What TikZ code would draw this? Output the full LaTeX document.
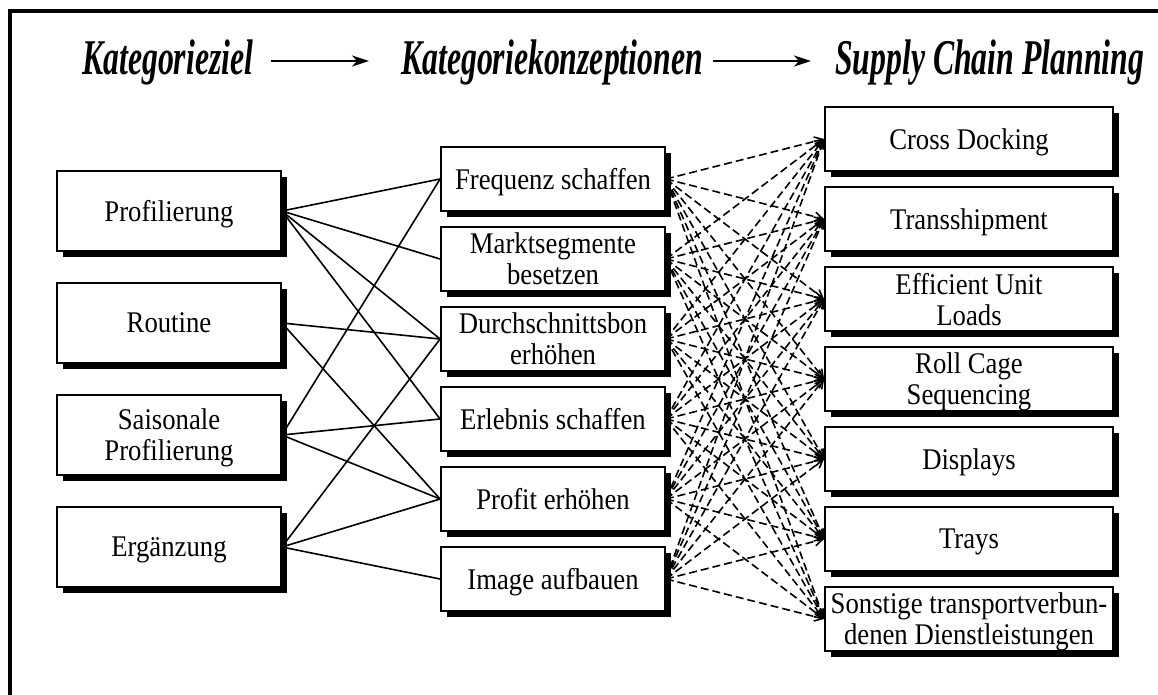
\documentclass[tikz,border=0pt]{standalone}
\usepackage{fontspec}
\usepackage{graphicx}
\setmainfont{Liberation Serif}
\newfontfamily\boxfont{Liberation Serif}[FakeStretch=0.89]
\usetikzlibrary{arrows.meta,shadows,backgrounds}
\begin{document}
\begin{tikzpicture}[x=1pt,y=-1pt,
  box/.style={draw=black, line width=1.8pt, fill=white, inner sep=0pt, align=center,
    font=\boxfont\fontsize{30}{31}\selectfont, text depth=0pt,
    drop shadow={shadow xshift=6pt, shadow yshift=-6pt, opacity=1, fill=black}},
  lbox/.style={box, minimum width=224pt, minimum height=80pt},
  mbox/.style={box, minimum width=224pt, minimum height=64pt},
  rbox/.style={box, minimum width=288pt, minimum height=64pt},
  titletext/.style={inner sep=0pt, anchor=base west, font=\fontsize{50}{60}\selectfont\bfseries\itshape},
  titlearrow/.style={line width=2.2pt, -{Stealth[length=17pt,width=11pt,inset=5pt]}},
  solidlink/.style={line width=1.6pt},
  dashlink/.style={line width=1.6pt, dash pattern=on 8pt off 4pt, -{Straight Barb[length=8pt,width=9pt]}}
]
\useasboundingbox (0,0) rectangle (1158,695);
% frame
\draw[line width=4pt] (10,697) -- (10,11) -- (1160,11);

% titles
\node[titletext] (t1) at (82,75) {\scalebox{0.635}[1]{Kategorieziel}};
\node[titletext] (t2) at (401,75) {\scalebox{0.635}[1]{Kategoriekonzeptionen}};
\node[titletext] (t3) at (835,75) {\scalebox{0.635}[1]{Supply Chain Planning}};
\coordinate (a1s) at (271,61); \coordinate (a1e) at (369,61);
\coordinate (a2s) at (713,61); \coordinate (a2e) at (811,61);
\draw[titlearrow] (a1s) -- (a1e);
\draw[titlearrow] (a2s) -- (a2e);

% left boxes
\node[lbox] (l1) at (169,211) {Profilierung};
\node[lbox] (l2) at (169,323) {Routine};
\node[lbox] (l3) at (169,435) {Saisonale\\Profilierung};
\node[lbox] (l4) at (169,547) {Ergänzung};

% middle boxes
\node[mbox] (m1) at (553,179) {Frequenz schaffen};
\node[mbox] (m2) at (553,259) {Marktsegmente\\besetzen};
\node[mbox] (m3) at (553,339) {Durchschnittsbon\\erhöhen};
\node[mbox] (m4) at (553,419) {Erlebnis schaffen};
\node[mbox] (m5) at (553,499) {Profit erhöhen};
\node[mbox] (m6) at (553,579) {Image aufbauen};

% right boxes
\node[rbox] (r1) at (969,139) {Cross Docking};
\node[rbox] (r2) at (969,219) {Transshipment};
\node[rbox] (r3) at (969,299) {Efficient Unit\\Loads};
\node[rbox] (r4) at (969,379) {Roll Cage\\Sequencing};
\node[rbox] (r5) at (969,459) {Displays};
\node[rbox] (r6) at (969,539) {Trays};
\node[rbox] (r7) at (969,619) {Sonstige transportverbun-\\denen Dienstleistungen};

\begin{scope}[on background layer]
  \foreach \a/\b in {l1/m1,l1/m2,l1/m3,l1/m4,l2/m3,l2/m5,l3/m1,l3/m4,l3/m5,l4/m3,l4/m5,l4/m6}
    \draw[solidlink] (\a.east) -- (\b.west);
  \foreach \a in {m1,m2,m3,m4,m5,m6}
    \foreach \b in {r1,r2,r3,r4,r5,r6,r7}
      \draw[dashlink] (\a.east) -- (\b.west);
\end{scope}
\end{tikzpicture}
\end{document}
